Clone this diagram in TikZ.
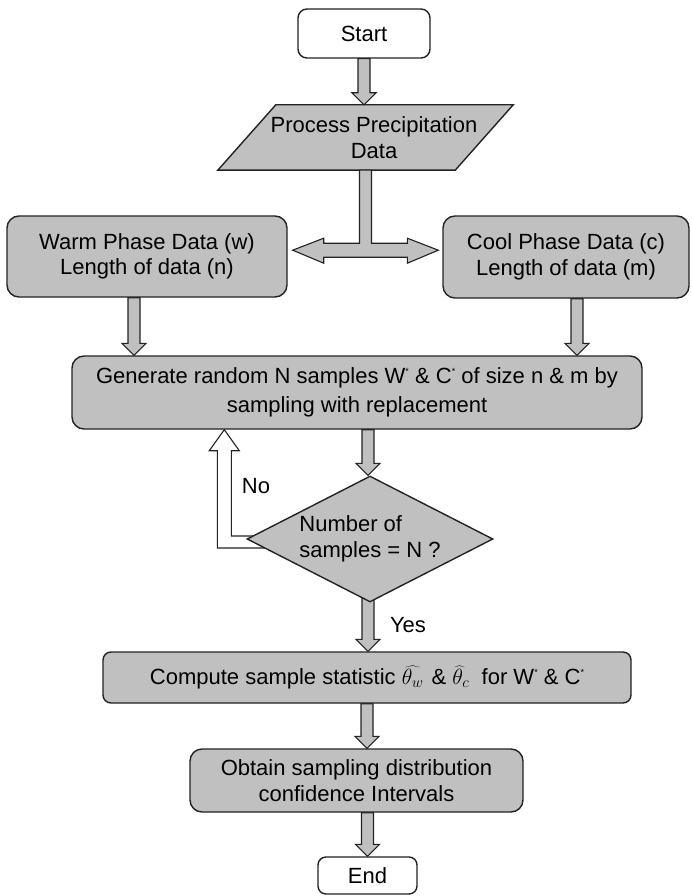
\documentclass[tikz,border=0pt]{standalone}
\usepackage{fix-cm}
\usepackage{fontspec}
\setmainfont{Liberation Sans}
\usetikzlibrary{shapes.geometric,calc}

\definecolor{boxfill}{RGB}{192,192,192}
\definecolor{edge}{RGB}{35,35,35}

\pgfdeclarelayer{back}
\pgfsetlayers{back,main}

% small raised asterisk used after W and C
\newcommand\starsup{\raisebox{0.8ex}{\fontsize{9}{9}\selectfont *}}

% grey block arrow pointing down: x taken from #1, shaft top at #2, tip at #3
\newcommand\blkdown[3]{%
  \draw[blockarrow] let \p0=(#1), \p1=(#2), \p2=(#3) in
    (\x0-6pt,\y1) -- (\x0-6pt,\y2+12pt) -- (\x0-12pt,\y2+12pt) -- (\x0,\y2)
    -- (\x0+12pt,\y2+12pt) -- (\x0+6pt,\y2+12pt) -- (\x0+6pt,\y1) -- cycle;}

\tikzset{
  every node/.style={font=\fontsize{22}{25.5}\selectfont},
  flowbox/.style={draw=edge, fill=boxfill, line width=1.4pt, rounded corners=12pt,
    align=center, inner sep=0pt},
  termbox/.style={flowbox, fill=white, rounded corners=9pt},
  paraedge/.style={draw=edge, fill=boxfill, line width=1.4pt},
  blockarrow/.style={draw=edge, fill=boxfill, line width=1.1pt},
  hollowarrow/.style={draw=edge, fill=white, line width=1.1pt},
  decision/.style={diamond, draw=edge, fill=boxfill, line width=1.4pt, aspect=1.95,
    inner sep=0pt, align=left},
  lbl/.style={inner sep=0pt}
}

\begin{document}
\begin{tikzpicture}[x=1pt, y=-1pt]
  % nodes
  \node[termbox, minimum width=132pt, minimum height=49pt] (start) at (364,33.5) {Start};
  \node[inner sep=0pt, minimum width=295pt, minimum height=65pt] (proc) at (365.5,137.5) {};
  \node[align=center, inner sep=0pt] (proctext) at (374,137.5) {Process Precipitation\\Data};
  \node[flowbox, minimum width=280pt, minimum height=81pt] (warm) at (147,256.5)
    {Warm Phase Data (w)\\Length of data (n)};
  \node[flowbox, minimum width=246pt, minimum height=82pt] (cool) at (566,257)
    {Cool Phase Data (c)\\Length of data (m)};
  \node[flowbox, minimum width=570pt, minimum height=73pt, font=\fontsize{22}{29}\selectfont]
    (gen) at (357,392.5)
    {Generate random N samples W\starsup{} \& C\starsup{} of size n \& m by\\sampling with replacement};
  \node[decision, minimum width=246pt, minimum height=126pt] (dec) at (370,539)
    {Number of\\samples = N ?};
  \node[flowbox, rounded corners=8pt, minimum width=528pt, minimum height=51pt] (comp) at (367,677.5)
    {Compute sample statistic $\widehat{\theta_w}$\kern2pt\ \& $\widehat{\theta}_c$\ \ for W\starsup{} \& C\starsup{}};
  \node[flowbox, minimum width=333pt, minimum height=63pt] (obt) at (356.5,780.5)
    {Obtain sampling distribution\\confidence Intervals};
  \node[termbox, rounded corners=8pt, minimum width=99pt, minimum height=37pt] (end) at (367.5,875.5) {End};
  \node[lbl] (nolbl) at (256,486) {No};
  \node[lbl] (yeslbl) at (408,625) {Yes};

  \begin{pgfonlayer}{back}
    \path[use as bounding box, fill=white] (0,0) rectangle (691,896);
    % input/output parallelogram
    \draw[paraedge] (proc.south west) -- ([xshift=-58pt]proc.south east)
      -- (proc.north east) -- ([xshift=58pt]proc.north west) -- cycle;
    % block arrows
    \blkdown{start.south}{start.south}{proc.north}
    \blkdown{[xshift=-13pt]warm.south}{warm.south}{gen.north}
    \blkdown{[xshift=11pt]cool.south}{cool.south}{gen.north}
    \blkdown{[xshift=-2pt]dec.north}{gen.south}{dec.north}
    \blkdown{[xshift=-2pt]dec.south}{dec.center}{comp.north}
    \blkdown{comp.south}{comp.south}{obt.north}
    \blkdown{end.north}{obt.south}{end.north}
    % split arrow towards both phase boxes
    \draw[blockarrow] let \p1=(proc.south), \p2=(warm.east), \p3=(cool.west) in
      (\x1-6pt,\y1) -- (\x1-6pt,\y1-73pt) -- (\x2+36pt,\y1-73pt) -- (\x2+36pt,\y1-68pt)
      -- (\x2+5pt,\y1-80pt) -- (\x2+36pt,\y1-93pt) -- (\x2+36pt,\y1-87pt)
      -- (\x3-35pt,\y1-87pt) -- (\x3-35pt,\y1-93pt) -- (\x3-4pt,\y1-80pt)
      -- (\x3-35pt,\y1-68pt) -- (\x3-35pt,\y1-73pt) -- (\x1+6pt,\y1-73pt)
      -- (\x1+6pt,\y1) -- cycle;
    % hollow "No" return arrow
    \draw[hollowarrow] let \p1=(dec.west), \p2=(gen.south) in
      (\x1+30pt,\y1-9pt) -- (\x1-29pt,\y1-9pt) -- (\x1-29pt,\y2-21pt) -- (\x1-37pt,\y2-21pt)
      -- (\x1-22pt,\y2) -- (\x1-7pt,\y2-21pt) -- (\x1-15pt,\y2-21pt) -- (\x1-15pt,\y1+3pt)
      -- (\x1+30pt,\y1+3pt) -- cycle;
  \end{pgfonlayer}
\end{tikzpicture}
\end{document}
